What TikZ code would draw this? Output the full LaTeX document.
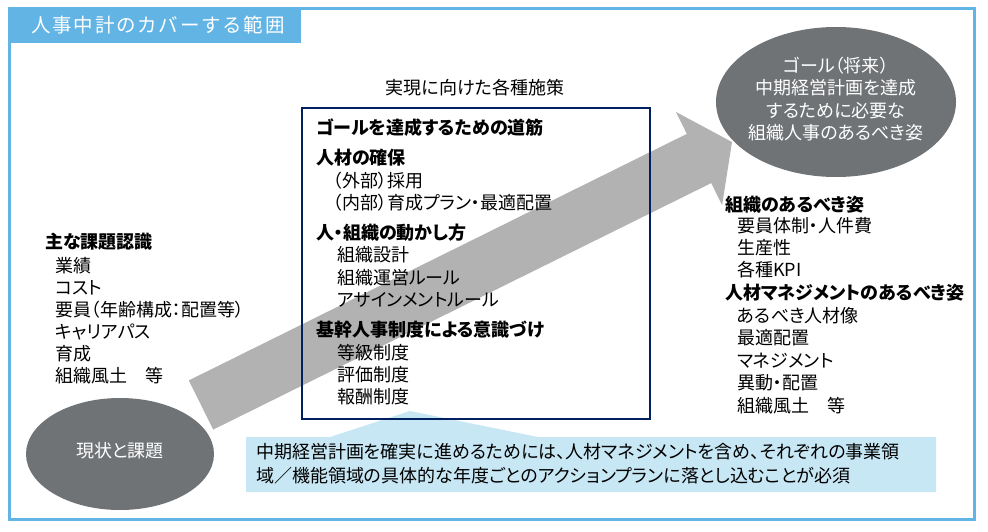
\documentclass[tikz,border=0pt]{standalone}
\usepackage{fontspec}
\setmainfont{Noto Sans CJK JP}[RawFeature={+palt}]
\newfontfamily\titlefont{Noto Sans CJK JP}[LetterSpace=9]
\usetikzlibrary{shapes.geometric}
\definecolor{frameblue}{RGB}{98,180,228}
\definecolor{navybox}{RGB}{0,32,96}
\definecolor{ellgray}{RGB}{112,115,118}
\definecolor{arrowgray}{RGB}{178,178,178}
\definecolor{calloutblue}{RGB}{199,231,245}
\tikzset{
  frameline/.style={draw=frameblue, line width=3pt},
  txt/.style={anchor=west, inner sep=0pt, text height=15.5pt, text depth=2pt, font=\fontsize{18}{22}\selectfont},
  hd/.style={txt, font=\fontsize{18}{22}\selectfont\bfseries},
  wtxt/.style={text=white, inner sep=0pt, align=center, font=\fontsize{18}{22.5}\selectfont},
  blob/.style={ellipse, fill=ellgray, inner sep=0pt}
}
\begin{document}
\begin{tikzpicture}[x=1pt,y=-1pt]
\useasboundingbox (0,0) rectangle (988,532);
% outer frame and title tab
\draw[frameline] (9.5,8.5) rectangle (974,519);
\fill[frameblue] (8,7) rectangle (301,43);
\node[wtxt, font=\titlefont\fontsize{19.5}{22}\selectfont] (title) at (158,25) {人事中計のカバーする範囲};
% big arrow
\coordinate (a1) at (188.8,380.4);
\coordinate (a2) at (686.8,133.9);
\coordinate (a3) at (675.9,111.9);
\coordinate (tip) at (732,142);
\coordinate (a5) at (722.1,205.1);
\coordinate (a6) at (711.2,183.1);
\coordinate (a7) at (213.2,429.6);
\fill[arrowgray] (a1) -- (a2) -- (a3) -- (tip) -- (a5) -- (a6) -- (a7) -- cycle;
% callout
\coordinate (c1) at (246,437);
\coordinate (c2) at (330,437);
\coordinate (cp) at (410,411);
\coordinate (c3) at (538,437);
\coordinate (c4) at (936,437);
\coordinate (c5) at (936,492);
\coordinate (c6) at (246,492);
\fill[calloutblue] (c1) -- (c2) -- (cp) -- (c3) -- (c4) -- (c5) -- (c6) -- cycle;
% central box
\node[draw=navybox, line width=2pt, anchor=north west, minimum width=348pt, minimum height=311pt, inner sep=0pt] (box) at (301,107) {};
% ellipses
\node[blob, minimum width=240pt, minimum height=150pt] (goal) at (836,102) {};
\node[blob, minimum width=188pt, minimum height=112pt] (now) at (120,454) {};
\node[wtxt] (goaltext) at (836,99) {ゴール（将来）\\中期経営計画を達成\\するために必要な\\組織人事のあるべき姿};
\node[wtxt] (nowtext) at (120,451) {現状と課題};
% label above box
\node[txt, anchor=center] (measures) at (475,88) {実現に向けた各種施策};
% left block
\node[hd] (l0) at (45,242) {主な課題認識};
\node[txt] (l1) at (55,266) {業績};
\node[txt] (l2) at (55,288) {コスト};
\node[txt] (l3) at (55,310) {要員（年齢構成：配置等）};
\node[txt] (l4) at (55,332) {キャリアパス};
\node[txt] (l5) at (55,354) {育成};
\node[txt] (l6) at (55,376) {組織風土　等};
% box contents
\node[hd] (b0) at (316,128) {ゴールを達成するための道筋};
\node[hd] (b1) at (316,158) {人材の確保};
\node[txt] (b2) at (333,181) {（外部）採用};
\node[txt] (b3) at (333,203) {（内部）育成プラン・最適配置};
\node[hd] (b4) at (316,233) {人・組織の動かし方};
\node[txt] (b5) at (337,255) {組織設計};
\node[txt] (b6) at (337,278) {組織運営ルール};
\node[txt] (b7) at (337,300) {アサインメントルール};
\node[hd] (b8) at (316,330) {基幹人事制度による意識づけ};
\node[txt] (b9) at (337,353) {等級制度};
\node[txt] (b10) at (337,375) {評価制度};
\node[txt] (b11) at (337,397) {報酬制度};
% right block
\node[hd] (r0) at (725,205) {組織のあるべき姿};
\node[txt] (r1) at (737,226) {要員体制・人件費};
\node[txt] (r2) at (737,248) {生産性};
\node[txt] (r3) at (737,270) {各種KPI};
\node[hd] (r4) at (725,293) {人材マネジメントのあるべき姿};
\node[txt] (r5) at (737,316) {あるべき人材像};
\node[txt] (r6) at (737,338) {最適配置};
\node[txt] (r7) at (737,361) {マネジメント};
\node[txt] (r8) at (737,383) {異動・配置};
\node[txt] (r9) at (737,406) {組織風土　等};
% callout text
\node[txt] (k1) at (256,452) {中期経営計画を確実に進めるためには、人材マネジメントを含め、それぞれの事業領};
\node[txt] (k2) at (256,476) {域／機能領域の具体的な年度ごとのアクションプランに落とし込むことが必須};
\end{tikzpicture}
\end{document}
